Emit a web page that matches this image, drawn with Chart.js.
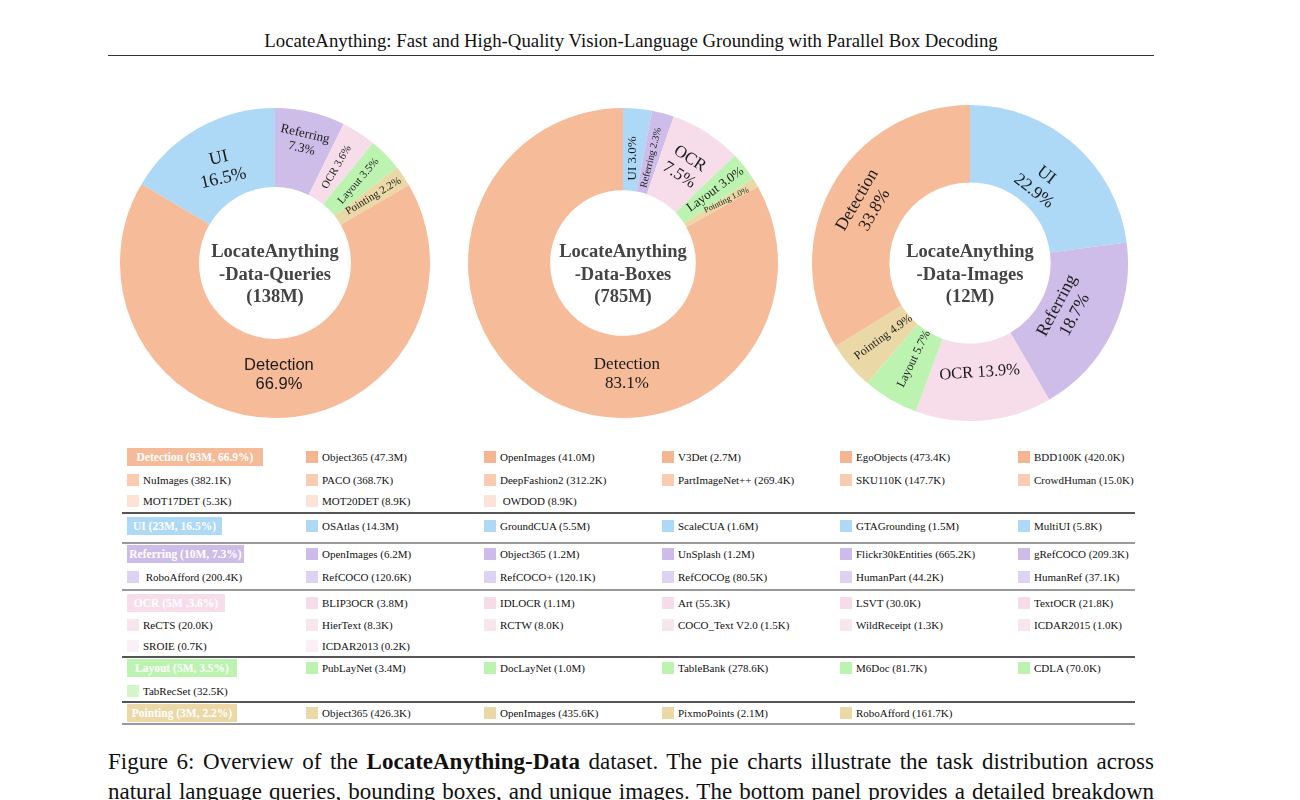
<!DOCTYPE html>
<html>
<head>
<meta charset="utf-8">
<script src="https://cdn.jsdelivr.net/npm/chart.js@4.4.1/dist/chart.umd.min.js"></script>
<style>
  html, body { margin: 0; padding: 0; background: #fff; }
  body { width: 1300px; height: 800px; position: relative; overflow: hidden; font-family: "Liberation Serif", serif; color: #111; }
  .abs { position: absolute; }
  .pie { position: absolute; }
  #header { left: 108px; width: 1046px; top: 30px; text-align: center; font-size: 18.8px; color: #111; white-space: nowrap; }
  #headerLine { left: 108px; width: 1046px; top: 55px; height: 1px; background: #333; }
  .row-item { position: absolute; font-size: 11px; white-space: pre; color: #111; line-height: 14px; }
  .sw { position: absolute; width: 12px; height: 12px; }
  .badge { position: absolute; color: #fff; font-weight: bold; font-size: 11.5px; line-height: 18px; height: 18px; text-align: center; white-space: nowrap; }
  .sep { position: absolute; left: 122px; width: 1013px; }
  .cap { position: absolute; left: 108px; width: 1046px; font-size: 21.5px; white-space: nowrap; text-align: justify; text-align-last: justify; color: #111; }
</style>
</head>
<body>
<div id="header" class="abs">LocateAnything: Fast and High-Quality Vision-Language Grounding with Parallel Box Decoding</div>
<div id="headerLine" class="abs"></div>

<canvas id="pieQueries" class="pie" width="320" height="320"></canvas>
<canvas id="pieBoxes" class="pie" width="320" height="320"></canvas>
<canvas id="pieImages" class="pie" width="320" height="320"></canvas>

<div id="panel"></div>

<div class="cap" id="cap1" style="top:749px">Figure 6: Overview of the <b>LocateAnything-Data</b> dataset. The pie charts illustrate the task distribution across</div>
<div class="cap" id="cap2" style="top:779px">natural language queries, bounding boxes, and unique images. The bottom panel provides a detailed breakdown</div>

<script>
// ---- data ----
var queriesLabels = ["Referring", "OCR", "Layout", "Pointing", "Detection", "UI"];
var queriesShare = [7.3, 3.6, 3.5, 2.2, 66.9, 16.5];
var queriesTitle = ["LocateAnything", "-Data-Queries", "(138M)"];

var boxesLabels = ["UI", "Referring", "OCR", "Layout", "Pointing", "Detection"];
var boxesShare = [3.0, 2.3, 7.5, 3.0, 1.0, 83.1];
var boxesTitle = ["LocateAnything", "-Data-Boxes", "(785M)"];

var imagesLabels = ["UI", "Referring", "OCR", "Layout", "Pointing", "Detection"];
var imagesShare = [22.9, 18.7, 13.9, 5.7, 4.9, 33.8];
var imagesTitle = ["LocateAnything", "-Data-Images", "(12M)"];

var taskBadges = ["Detection (93M, 66.9%)", "UI (23M, 16.5%)", "Referring (10M, 7.3%)",
                  "OCR (5M ,3.6%)", "Layout (5M, 3.5%)", "Pointing (3M, 2.2%)"];

var detectionSets = ["Object365 (47.3M)", "OpenImages (41.0M)", "V3Det (2.7M)", "EgoObjects (473.4K)", "BDD100K (420.0K)",
  "NuImages (382.1K)", "PACO (368.7K)", "DeepFashion2 (312.2K)", "PartImageNet++ (269.4K)", "SKU110K (147.7K)", "CrowdHuman (15.0K)",
  "MOT17DET (5.3K)", "MOT20DET (8.9K)", " OWDOD (8.9K)"];
var uiSets = ["OSAtlas (14.3M)", "GroundCUA (5.5M)", "ScaleCUA (1.6M)", "GTAGrounding (1.5M)", "MultiUI (5.8K)"];
var referringSets = ["OpenImages (6.2M)", "Object365 (1.2M)", "UnSplash (1.2M)", "Flickr30kEntities (665.2K)", "gRefCOCO (209.3K)",
  " RoboAfford (200.4K)", "RefCOCO (120.6K)", "RefCOCO+ (120.1K)", "RefCOCOg (80.5K)", "HumanPart (44.2K)", "HumanRef (37.1K)"];
var ocrSets = ["BLIP3OCR (3.8M)", "IDLOCR (1.1M)", "Art (55.3K)", "LSVT (30.0K)", "TextOCR (21.8K)",
  "ReCTS (20.0K)", "HierText (8.3K)", "RCTW (8.0K)", "COCO_Text V2.0 (1.5K)", "WildReceipt (1.3K)", "ICDAR2015 (1.0K)",
  "SROIE (0.7K)", "ICDAR2013 (0.2K)"];
var layoutSets = ["PubLayNet (3.4M)", "DocLayNet (1.0M)", "TableBank (278.6K)", "M6Doc (81.7K)", "CDLA (70.0K)",
  "TabRecSet (32.5K)"];
var pointingSets = ["Object365 (426.3K)", "OpenImages (435.6K)", "PixmoPoints (2.1M)", "RoboAfford (161.7K)"];

// ---- styles ----
var taskColors = {
  Detection: "#F6BB98", UI: "#ADD8F6", Referring: "#CEBDE8",
  OCR: "#F6DDE9", Layout: "#BDF3B1", Pointing: "#EBD8A7"
};
// swatch shades per row: strong, light, lighter
var shadeColors = [
  ["#F5B591", "#F9CCB2", "#FCE3D6"],
  ["#ADD8F6", "#C6E4F9", "#DCEEFB"],
  ["#CDBBE9", "#DDD2F1", "#EAE3F6"],
  ["#F6DCE8", "#F8E6EF", "#FBF0F5"],
  ["#BDF3B1", "#D1F7C9", "#E2FADC"],
  ["#EBD8A7", "#F1E4C2", "#F6EDD8"]
];
var badgeColors = ["#F5BA98", "#ADD8F6", "#CDBCE8", "#F7DDEA", "#BDF3B1", "#EBD8A6"];
var badgeWidths = [136, 95, 117, 98, 110, 110];

var colX = [127, 306, 484, 662, 840, 1018];
var rowY = [[457, 480, 501], [526], [554, 577], [603, 625, 646], [668, 691], [713]];
var sepLines = [[513, 1.3, "#555"], [543, 1.3, "#999"], [590, 1.3, "#999"], [657, 1.3, "#555"], [702, 1.3, "#555"], [724, 2.5, "#999"]];

// label look per slice: radius, rotation (deg), font size, two lines?, font, optional fixed angle
var serif = "Liberation Serif";
var queriesLook = [
  { r: 125, rot: 13, size: 13, split: true },
  { r: 114, rot: -60, size: 11 },
  { r: 117, rot: -49, size: 11 },
  { r: 119, rot: -31, size: 11 },
  { r: 112, rot: 0, size: 16.5, split: true, family: "Liberation Sans", ang: 88 },
  { r: 109, rot: -13, size: 18, split: true }
];
var boxesLook = [
  { r: 105, rot: -90, size: 13 },
  { r: 109, rot: -76, size: 10 },
  { r: 114, rot: 33, size: 17, split: true },
  { r: 118, rot: -36, size: 13 },
  { r: 121, rot: -26, size: 8.5 },
  { r: 111, rot: 0, size: 17, split: true, ang: 88 }
];
var imagesLook = [
  { r: 106, rot: 38, size: 17.5, split: true },
  { r: 107, rot: -62, size: 17.5, split: true },
  { r: 110, rot: -4, size: 16.5 },
  { r: 111, rot: -64, size: 12 },
  { r: 114, rot: -36, size: 12 },
  { r: 119, rot: -60, size: 17.5, split: true }
];

/* slice labels + centre title */
var sliceLabelPlugin = {
  id: "sliceLabels",
  afterDatasetsDraw: function(chart) {
    var ctx = chart.ctx;
    var meta = chart.getDatasetMeta(0);
    var looks = chart.options.plugins.sliceLabels.looks;
    var title = chart.options.plugins.sliceLabels.title;
    var names = chart.data.labels;
    var values = chart.data.datasets[0].data;
    ctx.save();
    ctx.textAlign = "center";
    ctx.textBaseline = "middle";
    meta.data.forEach(function(arc, i) {
      var look = looks[i];
      var mid = look.ang !== undefined ? look.ang * Math.PI / 180 : (arc.startAngle + arc.endAngle) / 2;
      var x = arc.x + Math.cos(mid) * look.r;
      var y = arc.y + Math.sin(mid) * look.r;
      var pct = values[i].toFixed(1) + "%";
      var lines = look.split ? [names[i], pct] : [names[i] + " " + pct];
      ctx.save();
      ctx.translate(x, y);
      ctx.rotate(look.rot * Math.PI / 180);
      ctx.fillStyle = "#1a1a1a";
      ctx.font = look.size + "px '" + (look.family || serif) + "'";
      var lh = look.size * 1.15;
      lines.forEach(function(t, k) {
        ctx.fillText(t, 0, (k - (lines.length - 1) / 2) * lh);
      });
      ctx.restore();
    });
    var c = meta.data[0];
    ctx.fillStyle = "#444";
    ctx.font = "bold 18.5px '" + serif + "'";
    title.forEach(function(t, k) {
      ctx.fillText(t, c.x, c.y + 12 + (k - 1) * 22.5);
    });
    ctx.restore();
  }
};

function makePie(id, labels, values, title, looks, cx, cy, radius, cutout) {
  var canvas = document.getElementById(id);
  canvas.style.left = (cx - 160) + "px";
  canvas.style.top = (cy - 160) + "px";
  return new Chart(canvas.getContext("2d"), {
    type: "doughnut",
    data: {
      labels: labels,
      datasets: [{
        data: values,
        backgroundColor: labels.map(function(l) { return taskColors[l]; }),
        borderWidth: 0
      }]
    },
    options: {
      responsive: false,
      animation: false,
      radius: radius,
      cutout: cutout,
      layout: { padding: 0 },
      plugins: {
        legend: { display: false },
        tooltip: { enabled: false },
        sliceLabels: { looks: looks, title: title }
      }
    },
    plugins: [sliceLabelPlugin]
  });
}

makePie("pieQueries", queriesLabels, queriesShare, queriesTitle, queriesLook, 275, 263, 155, "49%");
makePie("pieBoxes", boxesLabels, boxesShare, boxesTitle, boxesLook, 623, 263, 155, "47%");
makePie("pieImages", imagesLabels, imagesShare, imagesTitle, imagesLook, 970, 263, 158, "51%");

/* bottom panel */
function buildPanel() {
  var panel = document.getElementById("panel");
  var groups = [detectionSets, uiSets, referringSets, ocrSets, layoutSets, pointingSets];
  groups.forEach(function(sets, g) {
    var ys = rowY[g];
    var badge = document.createElement("div");
    badge.className = "badge";
    badge.style.left = colX[0] + "px";
    badge.style.width = badgeWidths[g] + "px";
    badge.style.top = (ys[0] - 9) + "px";
    badge.style.background = badgeColors[g];
    badge.textContent = taskBadges[g];
    panel.appendChild(badge);
    sets.forEach(function(name, i) {
      // first row starts after the badge
      var slot = i + 1;
      var row = Math.floor(slot / 6);
      var col = slot % 6;
      var shade = shadeColors[g][Math.min(row, 2)];
      var sw = document.createElement("div");
      sw.className = "sw";
      sw.style.left = colX[col] + "px";
      sw.style.top = (ys[row] - 6) + "px";
      sw.style.background = shade;
      panel.appendChild(sw);
      var tx = document.createElement("div");
      tx.className = "row-item";
      tx.style.left = (colX[col] + 16) + "px";
      tx.style.top = (ys[row] - 7) + "px";
      tx.textContent = name;
      panel.appendChild(tx);
    });
  });
  sepLines.forEach(function(s) {
    var ln = document.createElement("div");
    ln.className = "sep";
    ln.style.top = (s[0] - s[1] / 2) + "px";
    ln.style.height = s[1] + "px";
    ln.style.background = s[2];
    panel.appendChild(ln);
  });
}
buildPanel();

/* caption: pick the font size so the widest line just fits the column */
function fitCaption() {
  var widest = 0;
  ["cap1", "cap2"].forEach(function(id) {
    var probe = document.createElement("span");
    probe.style.cssText = "position:absolute;visibility:hidden;white-space:nowrap;font-family:'Liberation Serif';font-size:20px";
    probe.innerHTML = document.getElementById(id).innerHTML;
    document.body.appendChild(probe);
    widest = Math.max(widest, probe.getBoundingClientRect().width);
    document.body.removeChild(probe);
  });
  var size = Math.min(23, 20 * 1030 / widest);
  document.getElementById("cap1").style.fontSize = size + "px";
  document.getElementById("cap2").style.fontSize = size + "px";
}
fitCaption();
</script>
</body>
</html>
